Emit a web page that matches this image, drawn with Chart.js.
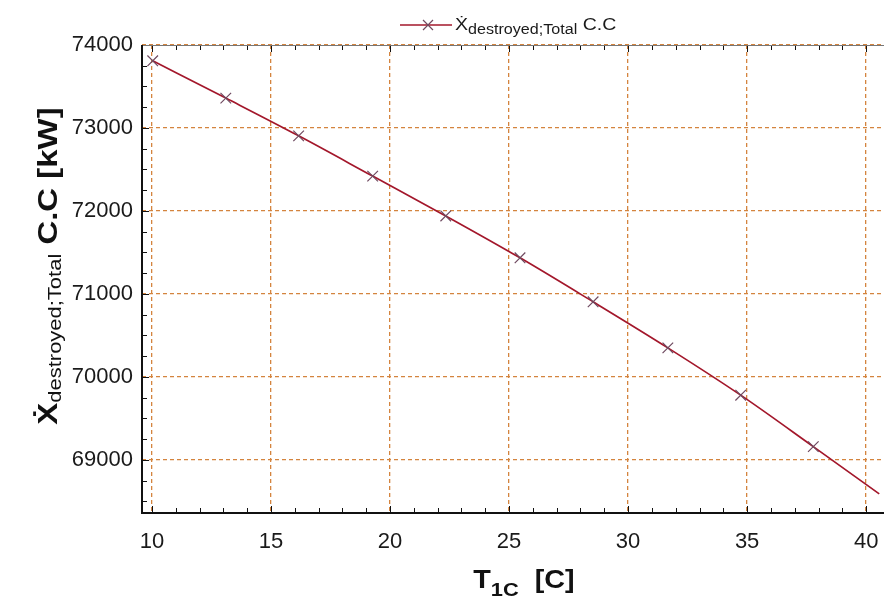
<!DOCTYPE html>
<html>
<head>
<meta charset="utf-8">
<script src="https://cdn.jsdelivr.net/npm/chart.js@4.4.1/dist/chart.umd.min.js"></script>
<style>
    html, body { margin: 0; padding: 0; background: #fff; }
    #wrap { width: 884px; height: 601px; }
</style>
</head>
<body>
<div id="wrap"><canvas id="chart" width="884" height="601"></canvas></div>
<script>
// values
const tempC = [10.03, 13.1, 16.16, 19.27, 22.34, 25.46, 28.53, 31.67, 34.73, 37.78, 40.55];
const exergyKW = [73810, 73360, 72905, 72420, 71940, 71435, 70905, 70350, 69780, 69160, 68590];
const hasMarker = [true, true, true, true, true, true, true, true, true, true, false];

const xTickLabels = [10, 15, 20, 25, 30, 35, 40];
const yTickLabels = [69000, 70000, 71000, 72000, 73000, 74000];

const FONT = '"Liberation Sans", Arial, sans-serif';
const lineColor = '#a3172b';
const markColor = '#6f4a60';
const gridColor = '#d4843e';

// draws a run of text pieces (for sub-scripts), stretched a bit like the original
function drawRuns(ctx, runs, x, y, sx) {
    ctx.save();
    ctx.translate(x, y);
    ctx.scale(sx, 1);
    let cx = 0;
    runs.forEach(r => {
        ctx.font = r.font;
        ctx.fillText(r.text, cx, r.dy || 0);
        cx += ctx.measureText(r.text).width;
    });
    ctx.restore();
}

function runsWidth(ctx, runs, sx) {
    let w = 0;
    ctx.save();
    runs.forEach(r => { ctx.font = r.font; w += ctx.measureText(r.text).width; });
    ctx.restore();
    return w * sx;
}

// frame + inward tick marks, like the original plot box
const framePlugin = {
    id: 'frame',
    afterDatasetsDraw(chart) {
        const ctx = chart.ctx;
        const a = chart.chartArea;
        const xs = chart.scales.x, ys = chart.scales.y;
        ctx.save();
        ctx.strokeStyle = '#111';
        ctx.lineWidth = 1;
        xs.ticks.forEach(t => {
            const px = Math.round(xs.getPixelForValue(t.value)) + 0.5;
            const len = xTickLabels.includes(t.value) ? 7 : 5;
            ctx.beginPath();
            ctx.moveTo(px, a.bottom); ctx.lineTo(px, a.bottom - len);
            ctx.moveTo(px, a.top); ctx.lineTo(px, a.top + len);
            ctx.stroke();
        });
        ys.ticks.forEach(t => {
            const py = Math.round(ys.getPixelForValue(t.value)) + 0.5;
            const len = yTickLabels.includes(t.value) ? 7 : 5;
            ctx.beginPath();
            ctx.moveTo(a.left, py); ctx.lineTo(a.left + len, py);
            ctx.stroke();
        });
        // top edge thin, left and bottom heavier
        ctx.strokeStyle = '#777';
        ctx.beginPath();
        ctx.moveTo(a.left, a.top + 0.5); ctx.lineTo(a.right, a.top + 0.5);
        ctx.stroke();
        ctx.strokeStyle = '#111';
        ctx.lineWidth = 2;
        ctx.beginPath();
        ctx.moveTo(a.left, a.top); ctx.lineTo(a.left, a.bottom); ctx.lineTo(a.right, a.bottom);
        ctx.stroke();
        ctx.restore();
    },
    afterDraw(chart) {
        const ctx = chart.ctx;
        ctx.save();
        ctx.fillStyle = '#111';
        ctx.textBaseline = 'alphabetic';

        // x axis title: T1C [C]
        const xRuns = [
            { text: 'T', font: 'bold 25px ' + FONT },
            { text: '1C', font: 'bold 19px ' + FONT, dy: 8 },
            { text: '  [C]', font: 'bold 25px ' + FONT }
        ];
        const xw = runsWidth(ctx, xRuns, 1.15);
        drawRuns(ctx, xRuns, 524 - xw / 2, 588, 1.15);

        // y axis title, rotated
        const yRuns = [
            { text: 'Ẋ', font: 'bold 27px ' + FONT },
            { text: 'destroyed;Total', font: '18px ' + FONT, dy: 4 },
            { text: ' C.C [kW]', font: 'bold 27px ' + FONT }
        ];
        const yw = runsWidth(ctx, yRuns, 1.22);
        ctx.save();
        ctx.translate(57, 266);
        ctx.rotate(-Math.PI / 2);
        drawRuns(ctx, yRuns, -yw / 2, 0, 1.22);
        ctx.restore();

        // legend
        ctx.strokeStyle = lineColor;
        ctx.lineWidth = 1.5;
        ctx.beginPath();
        ctx.moveTo(400, 25); ctx.lineTo(452, 25);
        ctx.stroke();
        ctx.strokeStyle = markColor;
        ctx.lineWidth = 1.2;
        ctx.beginPath();
        ctx.moveTo(423, 20); ctx.lineTo(433, 30);
        ctx.moveTo(433, 20); ctx.lineTo(423, 30);
        ctx.stroke();
        const legRuns = [
            { text: 'Ẋ', font: '17px ' + FONT },
            { text: 'destroyed;Total', font: '14px ' + FONT, dy: 4 },
            { text: ' C.C', font: '17px ' + FONT }
        ];
        ctx.fillStyle = '#1a1a1a';
        drawRuns(ctx, legRuns, 455, 30, 1.15);
        ctx.restore();
    }
};

const ctx = document.getElementById('chart').getContext('2d');
new Chart(ctx, {
    type: 'line',
    data: {
        datasets: [{
            data: tempC.map((t, i) => ({ x: t, y: exergyKW[i] })),
            borderColor: lineColor,
            borderWidth: 1.7,
            cubicInterpolationMode: 'monotone',
            pointStyle: 'crossRot',
            pointRadius: c => hasMarker[c.dataIndex] ? 7.5 : 0,
            pointBorderColor: markColor,
            pointBorderWidth: 1.2,
            fill: false
        }]
    },
    options: {
        responsive: false,
        animation: false,
        devicePixelRatio: 1,
        layout: { autoPadding: false, padding: { top: 45, right: 0, bottom: 0, left: 0 } },
        plugins: { legend: { display: false }, tooltip: { enabled: false } },
        scales: {
            x: {
                type: 'linear',
                min: 9.58,
                max: 40.75,
                afterFit: s => { s.height = 88; },
                border: { display: false, dash: [4, 3] },
                grid: {
                    drawTicks: true,
                    tickLength: 14,
                    tickColor: 'rgba(0,0,0,0)',
                    lineWidth: 1.3,
                    color: c => xTickLabels.includes(c.tick.value) ? gridColor : 'rgba(0,0,0,0)'
                },
                ticks: {
                    stepSize: 1,
                    autoSkip: false,
                    includeBounds: false,
                    maxRotation: 0,
                    padding: 2,
                    color: '#1a1a1a',
                    font: { family: FONT, size: 22 },
                    callback: v => xTickLabels.includes(v) ? String(v) : ''
                }
            },
            y: {
                min: 68360,
                max: 74000,
                afterFit: s => { s.width = 142; },
                border: { display: false, dash: [4, 3] },
                grid: {
                    drawTicks: false,
                    lineWidth: 1.3,
                    color: c => yTickLabels.includes(c.tick.value) ? gridColor : 'rgba(0,0,0,0)'
                },
                ticks: {
                    stepSize: 250,
                    autoSkip: false,
                    includeBounds: false,
                    padding: 9,
                    color: '#1a1a1a',
                    font: { family: FONT, size: 22 },
                    callback: v => yTickLabels.includes(v) ? String(v) : ''
                }
            }
        }
    },
    plugins: [framePlugin]
});
</script>
</body>
</html>
